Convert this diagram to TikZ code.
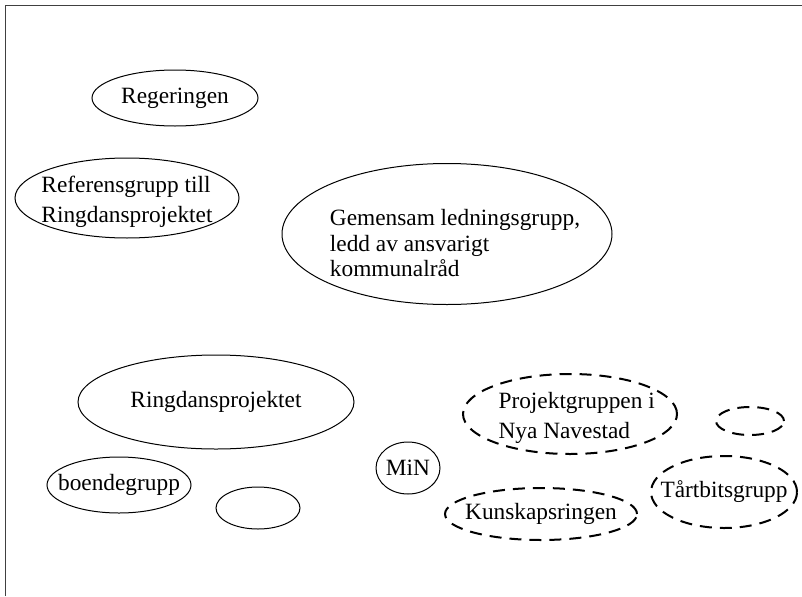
\documentclass[tikz,border=0pt]{standalone}
\usepackage{fontspec}
\setmainfont{Liberation Serif}
\usetikzlibrary{shapes.geometric}

\tikzset{every picture/.style={line width=0.75pt}}
\tikzset{
  grp/.style={draw, ellipse, inner sep=0pt},
  plangrp/.style={grp, line width=1.5pt, dash pattern=on 9pt off 6pt},
  grptext/.style={inner sep=0.75pt, align=left, font=\fontsize{17.5}{22.5}\selectfont}
}

\begin{document}
\begin{tikzpicture}[x=0.75pt,y=0.75pt,yscale=-1,xscale=1]
		\useasboundingbox (0,0) rectangle (802,596);

		%Straight Lines: frame
		\draw [black!75]  (5,596) -- (5,5) -- (802,5) ;

		%Shape: Ellipse [Regeringen]
		\node [grp, minimum width=124.5pt, minimum height=42pt] (reg) at (175,98) {};
		%Shape: Ellipse [Referensgrupp]
		\node [grp, minimum width=168pt, minimum height=60pt] (ref) at (127,198) {};
		%Shape: Ellipse [Gemensam ledningsgrupp]
		\node [grp, minimum width=247.5pt, minimum height=105.75pt] (led) at (447,234) {};
		%Shape: Ellipse [Ringdansprojektet]
		\node [grp, minimum width=207pt, minimum height=70.5pt] (ring) at (216,402) {};
		%Shape: Ellipse [boendegrupp]
		\node [grp, minimum width=108pt, minimum height=42pt] (boende) at (119,485) {};
		%Shape: Ellipse [empty]
		\node [grp, minimum width=63pt, minimum height=31.5pt] (tom) at (258,508) {};
		%Shape: Ellipse [MiN]
		\node [grp, minimum width=48pt, minimum height=39pt] (min) at (408,468) {};
		%Shape: Ellipse, dashed [Projektgruppen]
		\node [plangrp, minimum width=160.5pt, minimum height=60pt] (proj) at (570,414) {};
		%Shape: Ellipse, dashed [empty]
		\node [plangrp, minimum width=51pt, minimum height=21pt] (tomb) at (750,421) {};
		%Shape: Ellipse, dashed [Tartbitsgrupp]
		\node [plangrp, minimum width=109.5pt, minimum height=54pt] (tart) at (724,492) {};
		%Shape: Ellipse, dashed [Kunskapsringen]
		\node [plangrp, minimum width=144pt, minimum height=39pt] (kun) at (541,514) {};

		% Text Node
		\node [grptext] (regtxt) at (reg) {Regeringen};
		% Text Node
		\node [grptext] (reftxt) at ([yshift=3pt]ref.center) {Referensgrupp till\\Ringdansprojektet};
		% Text Node
		\node [grptext, font=\fontsize{17.5}{19}\selectfont] (ledtxt) at ([xshift=6pt,yshift=7pt]led.center) {Gemensam ledningsgrupp,\\ledd av ansvarigt\\kommunalråd};
		% Text Node
		\node [grptext] (ringtxt) at (ring) {Ringdansprojektet};
		% Text Node
		\node [grptext] (boendetxt) at (boende) {boendegrupp};
		% Text Node
		\node [grptext] (mintxt) at (min) {MiN};
		% Text Node
		\node [grptext] (projtxt) at ([xshift=5pt,yshift=3pt]proj.center) {Projektgruppen i\\Nya Navestad};
		% Text Node
		\node [grptext] (tarttxt) at (tart) {Tårtbitsgrupp};
		% Text Node
		\node [grptext] (kuntxt) at (kun) {Kunskapsringen};

\end{tikzpicture}
\end{document}
